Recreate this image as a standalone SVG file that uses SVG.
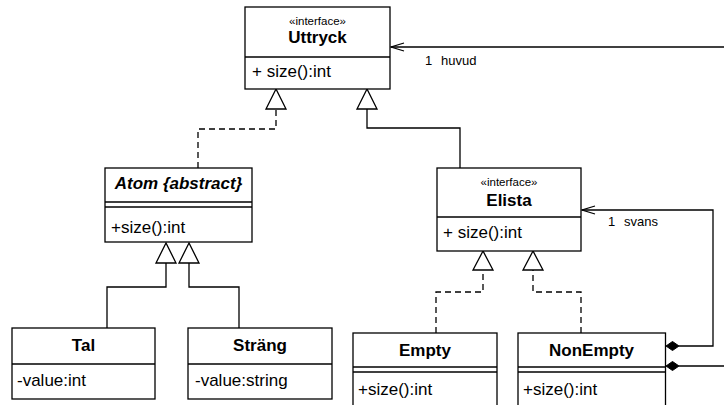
<svg xmlns="http://www.w3.org/2000/svg" width="724" height="405" viewBox="0 0 724 405">
  <style>
    .box { fill: #ffffff; stroke: #000000; stroke-width: 1.3; }
    .sep { fill: none; stroke: #000000; stroke-width: 1.3; }
    .edge { fill: none; stroke: #000000; stroke-width: 1.3; }
    .dash { stroke-dasharray: 6 4; }
    .tri { fill: #ffffff; stroke: #000000; stroke-width: 1.3; }
    .dia { fill: #000000; stroke: #000000; stroke-width: 1; }
    text { font-family: "Liberation Sans", Arial, Helvetica, sans-serif; fill: #000000; }
    .name { font-size: 17px; font-weight: bold; text-anchor: middle; }
    .abs { font-style: italic; }
    .stereo { font-size: 11.5px; text-anchor: middle; }
    .member { font-size: 17px; }
    .lbl { font-size: 13px; }
  </style>

  <!-- connectors -->
  <g id="connectors">
    <!-- Atom realizes Uttryck -->
    <path class="edge dash" d="M198,168 V129 H276 V109"/>
    <polygon class="tri" points="276,89 266,109 286,109"/>
    <!-- Elista extends Uttryck -->
    <path class="edge" d="M460,168 V128 H367 V109"/>
    <polygon class="tri" points="367,89 357,109 377,109"/>
    <!-- Tal extends Atom -->
    <path class="edge" d="M107,328 V287 H166 V263"/>
    <polygon class="tri" points="166,243 156,263 176,263"/>
    <!-- Sträng extends Atom -->
    <path class="edge" d="M239,328 V287 H189 V263"/>
    <polygon class="tri" points="189,243 179,263 199,263"/>
    <!-- Empty realizes Elista -->
    <path class="edge dash" d="M436,333 V292 H483 V270"/>
    <polygon class="tri" points="483,251 473,270 493,270"/>
    <!-- NonEmpty realizes Elista -->
    <path class="edge dash" d="M581,333 V292 H533 V270"/>
    <polygon class="tri" points="533,251 523,270 543,270"/>
    <!-- NonEmpty.svans : Elista -->
    <path class="edge" d="M679,346 H713 V210 H582"/>
    <polygon class="dia" points="666,346 672.5,341.5 679,346 672.5,350.5"/>
    <path class="edge" d="M595,206 L582,210 L595,214"/>
    <text class="lbl" x="608" y="226">1</text>
    <text class="lbl" x="624" y="226">svans</text>
    <!-- NonEmpty.huvud : Uttryck -->
    <path class="edge" d="M679,366 H724"/>
    <polygon class="dia" points="666,366 672.5,361.5 679,366 672.5,370.5"/>
    <path class="edge" d="M724,47 H391"/>
    <path class="edge" d="M404,43 L391,47 L404,51"/>
    <text class="lbl" x="425" y="65">1</text>
    <text class="lbl" x="441" y="65">huvud</text>
  </g>

  <!-- Uttryck -->
  <g id="uttryck">
    <rect class="box" x="245" y="7" width="145" height="82"/>
    <line class="sep" x1="245" y1="57" x2="390" y2="57"/>
    <text class="stereo" x="317.5" y="25">«interface»</text>
    <text class="name" x="317.5" y="43">Uttryck</text>
    <text class="member" x="252" y="77">+ size():int</text>
  </g>

  <!-- Atom -->
  <g id="atom">
    <rect class="box" x="105" y="168" width="147" height="74"/>
    <line class="sep" x1="105" y1="202" x2="252" y2="202"/>
    <line class="sep" x1="105" y1="207" x2="252" y2="207"/>
    <text class="name abs" x="178.5" y="189">Atom {abstract}</text>
    <text class="member" x="111" y="233">+size():int</text>
  </g>

  <!-- Elista -->
  <g id="elista">
    <rect class="box" x="437" y="168" width="144" height="83"/>
    <line class="sep" x1="437" y1="217" x2="581" y2="217"/>
    <text class="stereo" x="509" y="186">«interface»</text>
    <text class="name" x="509" y="206">Elista</text>
    <text class="member" x="443" y="238">+ size():int</text>
  </g>

  <!-- Tal -->
  <g id="tal">
    <rect class="box" x="12" y="328" width="143" height="71"/>
    <line class="sep" x1="12" y1="364" x2="155" y2="364"/>
    <text class="name" x="83.5" y="351">Tal</text>
    <text class="member" x="17" y="386">-value:int</text>
  </g>

  <!-- Sträng -->
  <g id="strang">
    <rect class="box" x="188" y="328" width="144" height="71"/>
    <line class="sep" x1="188" y1="364" x2="332" y2="364"/>
    <text class="name" x="260" y="351">Sträng</text>
    <text class="member" x="195" y="386">-value:string</text>
  </g>

  <!-- Empty -->
  <g id="empty">
    <rect class="box" x="353" y="333" width="144" height="80"/>
    <line class="sep" x1="353" y1="367" x2="497" y2="367"/>
    <line class="sep" x1="353" y1="372" x2="497" y2="372"/>
    <text class="name" x="425" y="356">Empty</text>
    <text class="member" x="358" y="395">+size():int</text>
  </g>

  <!-- NonEmpty -->
  <g id="nonempty">
    <rect class="box" x="518" y="333" width="147.5" height="80"/>
    <line class="sep" x1="518" y1="367" x2="665.5" y2="367"/>
    <line class="sep" x1="518" y1="372" x2="665.5" y2="372"/>
    <text class="name" x="591.5" y="356">NonEmpty</text>
    <text class="member" x="523" y="395">+size():int</text>
  </g>
</svg>
